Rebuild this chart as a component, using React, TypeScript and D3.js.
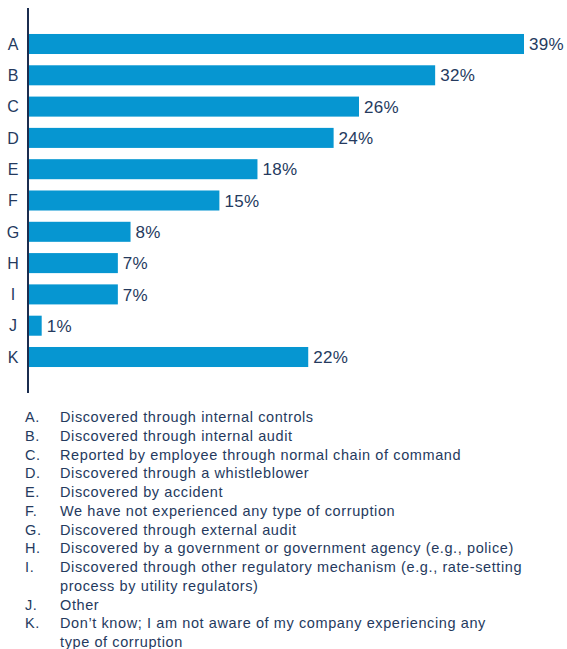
import React, { useRef, useEffect } from 'react';
import * as d3 from 'd3';

const categories = ['A', 'B', 'C', 'D', 'E', 'F', 'G', 'H', 'I', 'J', 'K'];
const values = [39, 32, 26, 24, 18, 15, 8, 7, 7, 1, 22];
const legendLines: string[][] = [
  ['Discovered through internal controls'],
  ['Discovered through internal audit'],
  ['Reported by employee through normal chain of command'],
  ['Discovered through a whistleblower'],
  ['Discovered by accident'],
  ['We have not experienced any type of corruption'],
  ['Discovered through external audit'],
  ['Discovered by a government or government agency (e.g., police)'],
  ['Discovered through other regulatory mechanism (e.g., rate-setting', 'process by utility regulators)'],
  ['Other'],
  ["Don\u2019t know; I am not aware of my company experiencing any", 'type of corruption'],
];

const W = 567;
const H = 649;
const BAR = '#0696d1';
const INK = '#253a5e';
const FONT = '"Liberation Sans", Arial, Helvetica, sans-serif';

export default function App() {
  const svgRef = useRef<SVGSVGElement>(null);

  useEffect(() => {
    const svg = d3.select(svgRef.current);
    svg.selectAll('*').remove();

    const axisX = 28;
    const x = d3.scaleLinear().domain([0, 39]).range([axisX + 1, 524]);
    const y = d3.scaleBand<string>().domain(categories).range([8, 393])
      .paddingInner(0.36).paddingOuter(0.83);

    const g = svg.append('g').attr('font-family', FONT);

    // Bars
    g.selectAll('rect.bar').data(values).enter().append('rect')
      .attr('x', x(0))
      .attr('y', (_, i) => y(categories[i])!)
      .attr('width', (d) => x(d) - x(0))
      .attr('height', y.bandwidth())
      .attr('fill', BAR);

    // Value labels
    g.selectAll('text.val').data(values).enter().append('text')
      .attr('x', (d) => x(d) + 5)
      .attr('y', (_, i) => y(categories[i])! + y.bandwidth() / 2)
      .attr('dy', '0.36em')
      .attr('fill', INK).attr('font-size', 17).attr('letter-spacing', 0.3)
      .text((d) => `${d}%`);

    // Category letters
    g.selectAll('text.cat').data(categories).enter().append('text')
      .attr('x', 13)
      .attr('y', (d) => y(d)! + y.bandwidth() / 2)
      .attr('dy', '0.36em')
      .attr('text-anchor', 'middle')
      .attr('fill', INK).attr('font-size', 16)
      .text((d) => d);

    // Axis line
    g.append('line')
      .attr('x1', axisX).attr('x2', axisX).attr('y1', 8).attr('y2', 393)
      .attr('stroke', '#1b2d4f').attr('stroke-width', 2);

    // Legend
    const lineH = 18.75;
    let row = 0;
    const base = 422;
    legendLines.forEach((lines, i) => {
      g.append('text')
        .attr('x', 25).attr('y', base + row * lineH)
        .attr('fill', INK).attr('font-size', 14.5).attr('letter-spacing', 0.6)
        .text(`${categories[i]}.`);
      lines.forEach((t) => {
        g.append('text')
          .attr('x', 60).attr('y', base + row * lineH)
          .attr('fill', INK).attr('font-size', 14.5).attr('letter-spacing', 0.6)
          .text(t);
        row += 1;
      });
    });
  }, []);

  return (
    <svg
      ref={svgRef}
      width={W}
      height={H}
      style={{ position: 'absolute', left: 0, top: 0, background: '#fff' }}
    />
  );
}
